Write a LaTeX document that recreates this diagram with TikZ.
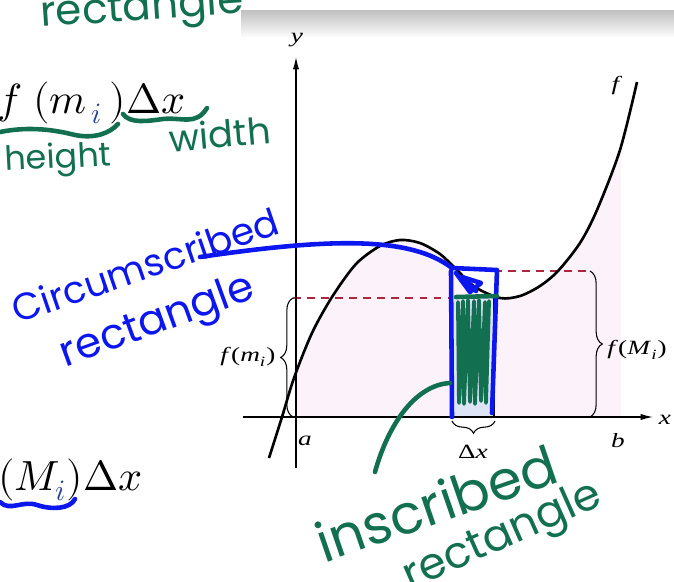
\documentclass[tikz,border=0pt]{standalone}
\usepackage{unicode-math}
\setmainfont{Liberation Serif}
\setmathfont{Latin Modern Math}
\newfontfamily\handfont{Poppins}
\usetikzlibrary{arrows.meta, positioning, decorations.pathreplacing}

\definecolor{penblue}{RGB}{12,22,238}
\definecolor{pengreen}{RGB}{18,112,80}
\definecolor{dashred}{RGB}{172,38,62}
\definecolor{areapink}{RGB}{252,242,250}
\definecolor{rectblue}{RGB}{220,228,246}
\definecolor{idot}{RGB}{40,70,150}

\begin{document}
\begin{tikzpicture}[
    x=0.02cm, y=-0.02cm,
    label style/.style={
        font=\fontsize{11.5}{13}\selectfont,
        xscale=1.35,
        inner sep=0pt
    },
    formula style/.style={
        font=\fontsize{24}{28}\selectfont,
        inner sep=0pt,
        anchor=base west
    },
    blue pen/.style={
        draw=penblue,
        line width=2.6pt,
        line cap=round,
        line join=round
    },
    green pen/.style={
        draw=pengreen,
        line width=2.6pt,
        line cap=round,
        line join=round
    },
    blue note/.style={
        text=penblue,
        font=\handfont\fontsize{22}{24}\selectfont,
        inner sep=0pt
    },
    green note/.style={
        text=pengreen,
        font=\handfont\fontsize{22}{24}\selectfont,
        inner sep=0pt
    },
    dash style/.style={
        draw=dashred,
        line width=0.9pt,
        dash pattern=on 4.5pt off 3.5pt
    },
    brace style/.style={
        decorate,
        decoration={brace, amplitude=7pt},
        line width=0.6pt
    }
]

% Frame
\useasboundingbox (0,0) rectangle (674,582);
\clip (0,0) rectangle (674,582);

% Grey band over the figure
\shade[top color=gray!50, bottom color=white] (241,10) rectangle (674,38);

% Area under f from a to b
\begin{scope}
    \clip (296,0) rectangle (621,417);
    \fill[areapink] plot[smooth] coordinates {(269,458) (282,417) (294,378) (312,333)
        (332,297) (356,264) (380,246) (400,240) (420,243) (440,254) (455,268)
        (475,287) (500,298) (520,296) (540,286) (558,271) (580,243) (597,210)
        (620,150) (637,82)} -- (637,417) -- (269,417) -- cycle;
\end{scope}

% Inscribed rectangle
\fill[rectblue] (452,298) rectangle (494,417);
\draw[line width=0.6pt] (494,298) -- (494,417);

% Dashed levels
\draw[dash style] (293,298) -- (452,298);
\draw[dash style] (494,271) -- (590,271);

% Axes
\coordinate (xstart) at (243,417);
\coordinate (xend) at (653,417);
\coordinate (ystart) at (296,468);
\coordinate (yend) at (296,57);
\draw[line width=0.7pt, -{Latex[length=7pt, width=3.5pt]}] (xstart) -- (xend);
\draw[line width=0.7pt, -{Latex[length=7pt, width=3.5pt]}] (ystart) -- (yend);

% The function
\draw[line width=1.5pt] plot[smooth] coordinates {(269,458) (282,417) (294,378) (312,333)
    (332,297) (356,264) (380,246) (400,240) (420,243) (440,254) (455,268)
    (475,287) (500,298) (520,296) (540,286) (558,271) (580,243) (597,210)
    (620,150) (637,82)};

% Braces
\draw[brace style] (293,417) -- (293,298);
\draw[brace style] (590,271) -- (590,417);
\draw[brace style] (495,421) -- (452,421);

% Labels
\node[label style] (ylab) at (297,40) {\textit{y}};
\node[label style] (xlab) at (665,420) {\textit{x}};
\node[label style] (alab) at (305,441) {\textit{a}};
\node[label style] (blab) at (618,441) {\textit{b}};
\node[label style] (flab) at (617,86) {\textit{f}};
\node[label style] (dxlab) at (473,452) {Δ\textit{x}};
\node[label style, anchor=east] (fmlab) at (276,357) {\textit{f}(\textit{m}\textsubscript{\textit{i}})};
\node[label style, anchor=west] (fMlab) at (607,350) {\textit{f}(\textit{M}\textsubscript{\textit{i}})};

% Formulas on the left
\node[formula style] (minform) at (-3,113) {$f\;(m_{\,\textcolor{idot}{i}}\,)\Delta x$};
\node[formula style] (maxform) at (-2,490) {$(M_{\textcolor{idot}{i}})\Delta x$};

% Circumscribed rectangle (blue pen)
\draw[blue pen] (451,271) -- (452,417);
\draw[blue pen] (452,268) -- (497,270) -- (492,413);
\draw[blue pen] (456,273) -- (470,292) -- (481,283) -- (462,277) -- (476,291);

% Inscribed rectangle (green pen)
\draw[green pen, line width=2.2pt] (458,302) -- (459,403) -- (463,301) -- (464,404)
    -- (468,300) -- (470,402) -- (474,301) -- (475,404) -- (479,300) -- (481,401)
    -- (485,302) -- (486,403) -- (489,301);
\draw[green pen] (456,297) -- (497,296);

% Notes
\node[green note, font=\handfont\fontsize{24}{26}\selectfont, rotate=4] (toprect) at (142,10) {rectangle};
\node[green note, font=\handfont\fontsize{19}{20}\selectfont, rotate=3] (hgt) at (58,160) {height};
\node[green note, font=\handfont\fontsize{21}{22}\selectfont, rotate=5] (wdt) at (220,134) {width};
\node[blue note, font=\handfont\fontsize{21.5}{24}\selectfont, rotate=19] (circ) at (145,265) {Circumscribed};
\node[blue note, font=\handfont\fontsize{24}{26}\selectfont, rotate=20] (circrect) at (158,323) {rectangle};
\node[green note, font=\handfont\fontsize{31}{34}\selectfont, rotate=19] (insc) at (436,503) {inscribed};
\node[green note, font=\handfont\fontsize{25}{28}\selectfont, rotate=24] (inscrect) at (503,538) {rectangle};

% Squiggles under the formulas
\draw[green pen] (0,132) .. controls (30,126) and (55,130) .. (75,135)
    .. controls (95,139) and (110,133) .. (118,124);
\draw[green pen] (123,114) .. controls (130,124) and (148,121) .. (163,119)
    .. controls (182,117) and (196,126) .. (207,108);
\draw[blue pen] (0,502) .. controls (10,512) and (22,500) .. (37,505)
    .. controls (52,510) and (70,509) .. (75,499);

% Pointers to the rectangles
\coordinate (circtail) at (200,257);
\coordinate (outertop) at (452,268);
\coordinate (insctail) at (375,472);
\coordinate (innerleft) at (450,383);
\draw[blue pen] (circtail) .. controls (330,238) and (410,236) .. (outertop);
\draw[green pen] (insctail) .. controls (388,425) and (415,385) .. (innerleft);

\end{tikzpicture}
\end{document}
